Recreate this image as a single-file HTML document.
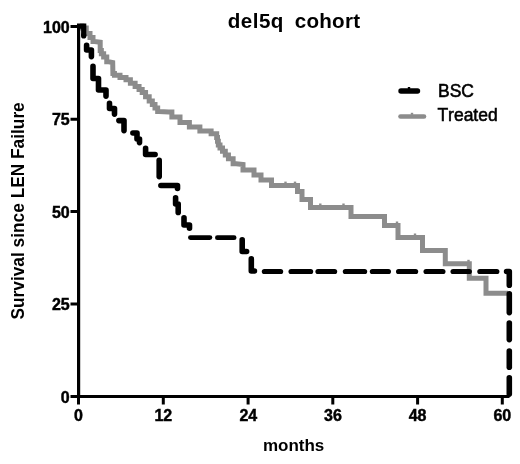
<!DOCTYPE html>
<html>
<head>
<meta charset="utf-8">
<title>del5q cohort</title>
<style>
html,body{margin:0;padding:0;background:#fff;}
body{width:520px;height:464px;overflow:hidden;}
svg{display:block;}
text{font-family:"Liberation Sans",Arial,sans-serif;fill:#000;font-kerning:none;}
.b{font-weight:bold;}
.tk{font-size:16px;font-weight:bold;stroke:#000;stroke-width:0.45px;}
</style>
</head>
<body>
<svg width="520" height="464" viewBox="0 0 520 464">
<rect width="520" height="464" fill="#fff"/>
<!-- title -->
<text x="227.8" y="27.7" class="b" font-size="20.6" letter-spacing="0.45">del5q</text>
<text x="294.7" y="27.7" class="b" font-size="20.6" letter-spacing="0.25">cohort</text>
<!-- y label -->
<text transform="translate(24.3,319.5) rotate(-90) scale(1,1.08)" class="b" font-size="17.3">Survival since LEN Failure</text>
<!-- x label -->
<text x="262.9" y="450.9" class="b" font-size="17">months</text>
<!-- gray curve (Treated) -->
<polyline fill="none" stroke="#8c8c8c" stroke-width="5" stroke-linejoin="miter" points="80.00,26.00 82.00,26.00 82.00,28.00 84.00,28.00 86.25,28.00 86.25,33.50 88.50,33.50 90.00,33.50 90.00,37.50 93.00,37.50 93.00,41.50 94.50,41.50 100.20,42.20 100.20,50.50 101.35,50.50 101.35,53.75 103.65,53.75 103.65,57.00 104.80,57.00 106.75,57.00 106.75,61.80 108.70,61.80 112.70,62.50 112.90,73.50 114.45,73.50 114.45,75.30 116.00,75.30 120.00,75.30 120.00,77.40 124.00,77.40 126.00,77.40 126.00,79.80 128.00,79.80 130.38,79.80 130.38,83.15 135.12,83.15 135.12,86.50 137.50,86.50 139.06,86.50 139.06,89.50 142.19,89.50 142.19,92.50 143.75,92.50 145.56,92.50 145.56,96.75 149.19,96.75 149.19,101.00 151.00,101.00 152.33,101.00 152.33,104.50 155.00,104.50 155.00,108.00 157.67,108.00 157.67,111.50 159.00,111.50 168.75,112.00 171.88,112.00 171.88,117.00 175.00,117.00 180.00,117.00 180.00,122.50 185.00,122.50 189.38,122.50 189.38,127.00 193.75,127.00 199.88,127.00 199.88,131.00 206.00,131.00 211.12,131.00 211.12,133.75 216.25,133.75 216.67,133.75 216.67,137.50 217.50,137.50 217.50,141.25 218.33,141.25 218.33,145.00 218.75,145.00 220.00,145.00 220.00,148.12 222.50,148.12 222.50,151.25 223.75,151.25 225.31,151.25 225.31,155.00 228.44,155.00 228.44,158.75 230.00,158.75 233.12,158.75 233.12,163.75 236.25,163.75 243.00,164.50 243.00,170.00 254.00,170.00 254.00,175.00 261.00,175.00 261.00,180.00 271.50,180.00 271.50,185.60 297.50,185.60 297.50,191.50 302.00,191.50 302.00,199.50 310.50,199.50 310.50,207.50 351.00,207.50 351.00,216.50 384.50,216.50 384.50,225.50 398.00,225.50 398.00,237.50 422.50,237.50 422.50,250.50 445.30,250.50 445.30,263.75 469.30,263.75 469.30,278.20 486.00,278.20 486.00,293.30 508.00,293.30"/>
<!-- censor marks -->
<rect x="284.3" y="181.6" width="2.4" height="2" fill="#8c8c8c"/><rect x="293.8" y="181.6" width="2.4" height="2" fill="#8c8c8c"/><rect x="319.1" y="203.5" width="2.4" height="2" fill="#8c8c8c"/><rect x="342.3" y="203.5" width="2.4" height="2" fill="#8c8c8c"/><rect x="395.8" y="221.5" width="2.4" height="2" fill="#8c8c8c"/><rect x="413.8" y="233.5" width="2.4" height="2" fill="#8c8c8c"/><rect x="467.3" y="259.8" width="2.4" height="2" fill="#8c8c8c"/><rect x="407.8" y="87.0" width="2.4" height="2" fill="#000"/><rect x="410.8" y="112.8" width="2.4" height="2" fill="#8c8c8c"/>
<!-- black dashed curve (BSC) -->
<path d="M77,26.2 H83.7 V36.5" fill="none" stroke="#000" stroke-width="5.2" stroke-linejoin="miter" stroke-linecap="butt"/>
<path d="M83.7,35 V36" fill="none" stroke="#000" stroke-width="5.2" stroke-linecap="round"/>
<g fill="none" stroke="#000" stroke-width="5.6" stroke-linejoin="round" stroke-linecap="round">
<path d="M86.60,45.40 L86.60,50.00 L91.40,50.00 L91.40,56.60"/>
<path d="M93.00,66.40 L93.00,78.50 L98.50,78.50 L98.50,90.00 L106.00,90.00 L106.00,96.10"/>
<path d="M109.50,103.40 L109.50,108.50 L114.50,108.50 L114.50,114.10"/>
<path d="M118.90,120.60 L124.00,120.60 L124.00,130.60"/>
<path d="M132.90,133.00 L137.00,133.00 L137.00,139.00 L139.50,139.00 L139.50,142.60"/>
<path d="M145.60,148.40 L145.60,154.50 L155.10,154.50"/>
<path d="M159.20,160.40 L159.20,176.60"/>
<path d="M160.90,185.50 L177.50,185.50 L177.50,188.50"/>
<path d="M175.60,197.90 L175.60,204.00 L178.20,204.00 L178.20,212.40"/>
<path d="M184.00,217.70 L184.00,225.00 L189.50,225.00 L189.50,228.18"/>
<path d="M190.40,237.60 L209.90,237.60" stroke-width="4.8"/>
<path d="M217.40,237.70 L234.10,237.70" stroke-width="4.8"/>
<path d="M242.20,239.90 L242.20,251.50 L246.60,251.50"/>
<path d="M251.30,258.90 L251.30,271.00 L254.42,271.00"/>
<path d="M264.40,271.50 L280.60,271.50" stroke-width="5.2"/>
<path d="M291.10,271.50 L310.60,271.50" stroke-width="5.2"/>
<path d="M318.00,271.50 L334.60,271.50" stroke-width="5.2"/>
<path d="M345.40,271.50 L364.60,271.50" stroke-width="5.2"/>
<path d="M372.40,271.50 L388.40,271.50" stroke-width="5.2"/>
<path d="M398.60,271.50 L415.60,271.50" stroke-width="5.2"/>
<path d="M426.10,271.50 L442.90,271.50" stroke-width="5.2"/>
<path d="M453.10,271.50 L469.30,271.50" stroke-width="5.2"/>
<path d="M479.90,271.50 L496.80,271.50" stroke-width="5.2"/>
<path d="M506.60,271.50 L509.30,271.50 L509.30,285.20"/>
<path d="M509.30,293.70 L509.30,312.60"/>
<path d="M509.30,323.00 L509.30,339.60"/>
<path d="M509.30,351.10 L509.30,367.30"/>
<path d="M509.30,377.80 L509.30,394.10"/>
</g>
<!-- axes -->
<g stroke="#000" fill="none">
<path d="M78.6,24.5 V398" stroke-width="3.2"/>
<path d="M77,396.5 H509.5" stroke-width="3.2"/>
<path stroke-width="3" d="M70.5,26.4 H78.5 M70.5,119.2 H78.5 M70.5,211.4 H78.5 M70.5,304.1 H78.5 M70.5,396.5 H78.5"/>
<path stroke-width="3" d="M78.5,396.5 V404.4 M163.3,396.5 V404.4 M248.1,396.5 V404.4 M332.8,396.5 V404.4 M417.6,396.5 V404.4 M502.3,396.5 V404.4"/>
</g>
<!-- y tick labels -->
<g class="tk" text-anchor="end">
<text x="69.7" y="32.9">100</text>
<text x="69.7" y="125.1">75</text>
<text x="69.7" y="218">50</text>
<text x="69.7" y="310.1">25</text>
<text x="69.7" y="403">0</text>
</g>
<!-- x tick labels -->
<g class="tk" text-anchor="middle">
<text x="78.4" y="420.7">0</text>
<text x="163.3" y="420.7">12</text>
<text x="248.3" y="420.7">24</text>
<text x="332.9" y="420.7">36</text>
<text x="417.6" y="420.7">48</text>
<text x="502.3" y="420.7">60</text>
</g>
<!-- legend -->
<path d="M401,91 H417.5" stroke="#000" stroke-width="5.4" stroke-linecap="round" fill="none"/>
<path d="M400.5,116.5 H424" stroke="#8c8c8c" stroke-width="4.6" stroke-linecap="round" fill="none"/>
<text x="438" y="96.9" font-size="17.5" stroke="#000" stroke-width="0.55">BSC</text>
<text x="437.4" y="121.4" font-size="17.5" stroke="#000" stroke-width="0.55">Treated</text>
</svg>
</body>
</html>
